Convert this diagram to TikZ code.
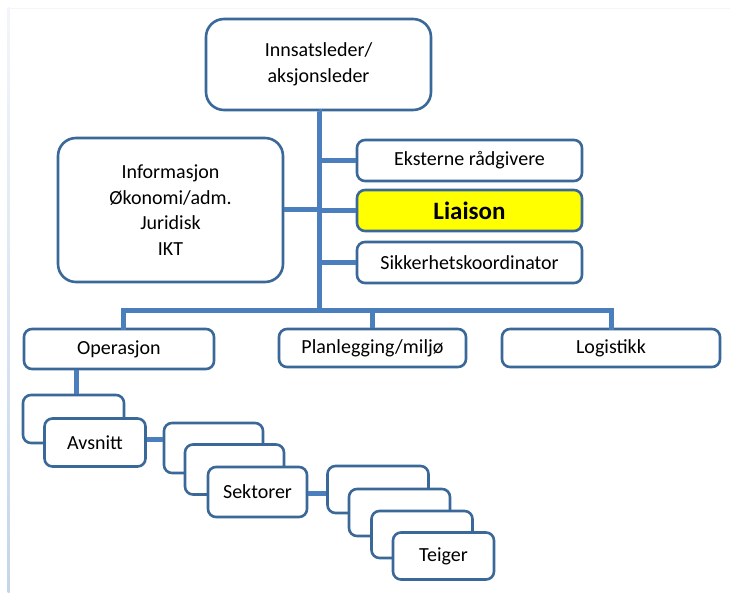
\documentclass[tikz,border=0pt]{standalone}
\usepackage{fontspec}
\setmainfont{Carlito}
\definecolor{boxline}{RGB}{58,104,152}
\definecolor{linkline}{RGB}{74,126,189}
\definecolor{frametop}{RGB}{242,246,251}
\definecolor{framebot}{RGB}{196,213,234}
\definecolor{hilite}{RGB}{255,255,0}
\tikzset{
  orgbox/.style={draw=boxline, line width=2.6pt, fill=white, rounded corners=8pt,
    inner sep=0pt, align=center, font=\fontsize{20}{25.5}\selectfont},
  bigbox/.style={orgbox, rounded corners=18pt},
  link/.style={draw=linkline, line width=5pt},
}
\begin{document}
\begin{tikzpicture}[x=1pt, y=-1pt]
\useasboundingbox (0,0) rectangle (730,593);
% faint page frame
\fill[frametop] (8,8) rectangle (730,9.5);
\shade[top color=frametop, bottom color=framebot] (7.5,8) rectangle (9.5,593);

% junction of the trunk with the horizontal bus
\coordinate (bus) at (319,310);

% top level and staff functions
\node[bigbox, minimum width=225pt, minimum height=91pt] (lead) at (318.5,64.5)
  {Innsatsleder/\\aksjonsleder};
\node[bigbox, minimum width=225pt, minimum height=144pt] (staff) at (170.5,210)
  {Informasjon\\Økonomi/adm.\\Juridisk\\IKT};
\node[orgbox, minimum width=225pt, minimum height=41pt] (ext) at (469.5,160.5)
  {Eksterne rådgivere};
\node[orgbox, fill=hilite, minimum width=225pt, minimum height=41pt,
  font=\fontsize{25}{29}\selectfont\bfseries] (liaison) at (469.5,210.5) {Liaison};
\node[orgbox, minimum width=225pt, minimum height=41pt] (safety) at (469.5,262.5)
  {Sikkerhetskoordinator};

% sections
\node[orgbox, minimum width=190pt, minimum height=40pt] (oper) at (119,349) {Operasjon};
\node[orgbox, minimum width=187pt, minimum height=38pt] (plan) at (372.5,348)
  {Planlegging/miljø};
\node[orgbox, minimum width=218pt, minimum height=38pt] (logi) at (611,348) {Logistikk};

% connectors (drawn below the box stacks)
\draw[link] (lead.south) -- (lead.south -| bus) -- (bus);
\draw[link] (staff.east) -- (staff.east -| bus);
\draw[link] (ext.west -| bus) -- (ext.west);
\draw[link] (liaison.west -| bus) -- (liaison.west);
\draw[link] (safety.west -| bus) -- (safety.west);
\draw[link, line cap=rect] ([xshift=4pt]oper.north) |- (bus);
\draw[link] (plan.north) -- (plan.north |- bus);
\draw[link, line cap=rect] (logi.north) |- (bus);

% Avsnitt stack
\node[orgbox, minimum width=101pt, minimum height=48pt] (av1) at (73.5,419) {};
\draw[link] ([xshift=2.5pt]av1.north) -- ([xshift=2.5pt]av1.north |- oper.south);
\node[orgbox, minimum width=101pt, minimum height=48pt] (av2) at (95,442.5) {Avsnitt};

% Sektorer stack
\node[orgbox, minimum width=99pt, minimum height=50pt] (sk1) at (213.5,448) {};
\draw[link] ([yshift=3pt]av2.east) -- ([yshift=3pt]av2.east -| sk1.west);
\node[orgbox, minimum width=99pt, minimum height=50pt] (sk2) at (234.5,469.5) {};
\node[orgbox, minimum width=99pt, minimum height=50pt] (sk3) at (257.5,492) {Sektorer};

% Teiger stack
\node[orgbox, minimum width=101pt, minimum height=47pt] (te1) at (378,489.5) {};
\draw[link] ([yshift=-1pt]sk3.east) -- ([yshift=-1pt]sk3.east -| te1.west);
\node[orgbox, minimum width=101pt, minimum height=47pt] (te2) at (399.5,512.5) {};
\node[orgbox, minimum width=101pt, minimum height=47pt] (te3) at (422,534.5) {};
\node[orgbox, minimum width=101pt, minimum height=47pt] (te4) at (443.5,556) {Teiger};
\end{tikzpicture}
\end{document}
